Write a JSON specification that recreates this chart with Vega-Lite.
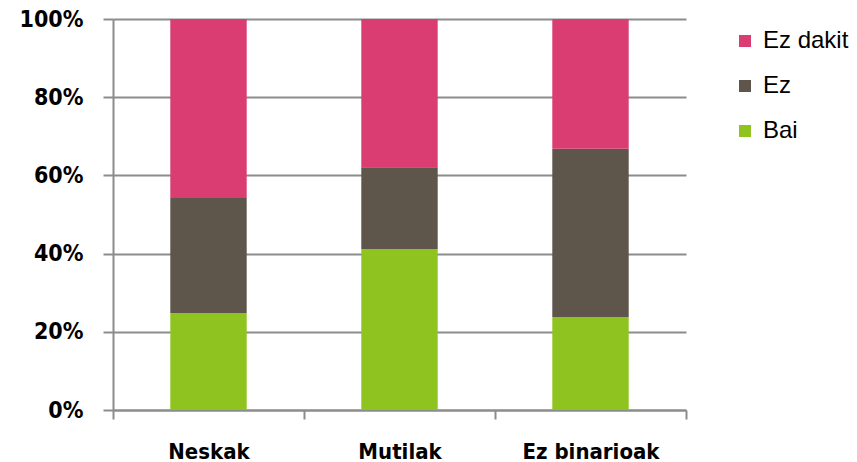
{
  "$schema": "https://vega.github.io/schema/vega-lite/v6.json",
  "autosize": "none",
  "width": 573,
  "height": 391,
  "padding": {"left": 113, "top": 19, "right": 171, "bottom": 52},
  "background": "white",
  "data": {
    "values": [
      {"group": "Neskak", "answer": "Bai", "value": 0.248, "ord": 1},
      {"group": "Neskak", "answer": "Ez", "value": 0.294, "ord": 2},
      {"group": "Neskak", "answer": "Ez dakit", "value": 0.458, "ord": 3},
      {"group": "Mutilak", "answer": "Bai", "value": 0.412, "ord": 1},
      {"group": "Mutilak", "answer": "Ez", "value": 0.209, "ord": 2},
      {"group": "Mutilak", "answer": "Ez dakit", "value": 0.379, "ord": 3},
      {"group": "Ez binarioak", "answer": "Bai", "value": 0.238, "ord": 1},
      {"group": "Ez binarioak", "answer": "Ez", "value": 0.43, "ord": 2},
      {"group": "Ez binarioak", "answer": "Ez dakit", "value": 0.332, "ord": 3}
    ]
  },
  "mark": {"type": "bar", "width": {"band": 0.4}},
  "encoding": {
    "x": {
      "field": "group",
      "type": "nominal",
      "sort": ["Neskak", "Mutilak", "Ez binarioak"],
      "scale": {"paddingInner": 0, "paddingOuter": 0},
      "axis": {
        "title": null,
        "labelAngle": 0,
        "ticks": true,
        "tickBand": "extent",
        "tickSize": 9,
        "tickColor": "#8c8c8c",
        "tickWidth": 2,
        "domainColor": "#8c8c8c",
        "domainWidth": 2,
        "labelFont": "DejaVu Sans Condensed",
        "labelFontWeight": "bold",
        "labelFontSize": 22,
        "labelColor": "#000000",
        "labelPadding": 22,
        "grid": false
      }
    },
    "y": {
      "field": "value",
      "type": "quantitative",
      "stack": "zero",
      "scale": {"domain": [0, 1]},
      "axis": {
        "title": null,
        "values": [0, 0.2, 0.4, 0.6, 0.8, 1],
        "format": ".0%",
        "grid": true,
        "gridColor": "#8c8c8c",
        "gridWidth": 2,
        "ticks": true,
        "tickSize": 10,
        "tickColor": "#8c8c8c",
        "tickWidth": 2,
        "domainColor": "#8c8c8c",
        "domainWidth": 2,
        "labelFont": "DejaVu Sans Condensed",
        "labelFontWeight": "bold",
        "labelFontSize": 23,
        "labelColor": "#000000",
        "labelPadding": 20
      }
    },
    "color": {
      "field": "answer",
      "type": "nominal",
      "scale": {
        "domain": ["Ez dakit", "Ez", "Bai"],
        "range": ["#D93D71", "#5E554B", "#8FC31F"]
      },
      "legend": {
        "title": null,
        "orient": "none",
        "legendX": 620,
        "legendY": 10,
        "symbolType": "square",
        "symbolSize": 144,
        "symbolStrokeWidth": 0,
        "symbolOpacity": 1,
        "labelFont": "Liberation Sans",
        "labelFontSize": 24,
        "labelColor": "#000000",
        "labelOffset": 6,
        "rowPadding": 21
      }
    },
    "order": {"field": "ord", "type": "quantitative"}
  },
  "config": {"view": {"stroke": null}}
}
